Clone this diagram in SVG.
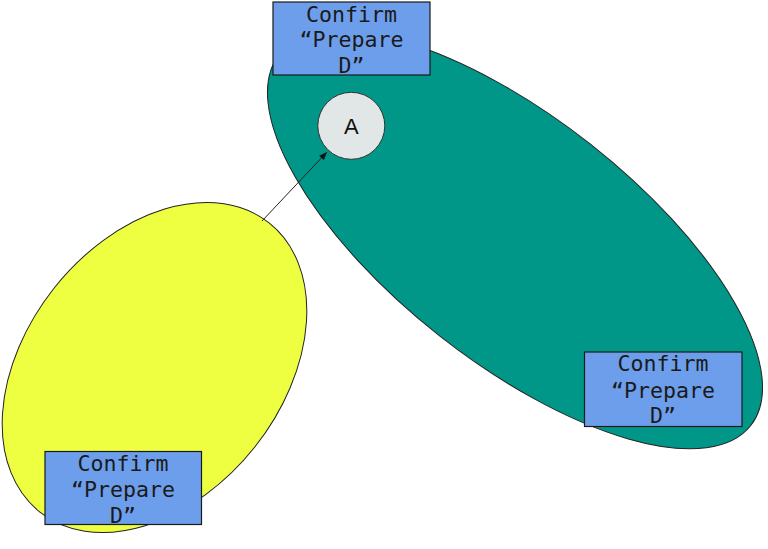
<svg xmlns="http://www.w3.org/2000/svg" width="768" height="549" viewBox="0 0 768 549">
<style>
.ell{stroke:#222;stroke-width:1}
.box{fill:#6d9eeb;stroke:#1a1a1a;stroke-width:1.2}
.lbl{font-family:"DejaVu Sans Mono","Liberation Mono",monospace;font-size:21.6px;fill:#1a1a1a;text-anchor:middle}
.circ{fill:#e0e7e6;stroke:#333;stroke-width:1}
.ctext{font-family:"Liberation Sans",Arial,sans-serif;font-size:22px;fill:#111;text-anchor:middle}
.edge{stroke:#222;stroke-width:1;fill:none}
</style>
<defs>
<marker id="arr" viewBox="0 0 10 10" refX="10" refY="5" markerWidth="9" markerHeight="8" orient="auto" markerUnits="userSpaceOnUse">
<path d="M0,1 L10,5 L0,9 z" fill="#111"/>
</marker>
</defs>
<g id="teal-group">
<ellipse class="ell" cx="515" cy="240" rx="300" ry="122" transform="rotate(38.2 515 240)" fill="#009688"/>
</g>
<g id="yellow-group">
<ellipse class="ell" cx="154.5" cy="367.5" rx="128" ry="184.5" transform="rotate(38.4 154.5 367.5)" fill="#eeff41"/>
</g>
<g id="connectors">
<line class="edge" x1="262" y1="221" x2="327" y2="152" marker-end="url(#arr)"/>
</g>
<g id="node-A">
<circle class="circ" cx="351.3" cy="125.8" r="33.5"/>
<text class="ctext" x="351.3" y="134">A</text>
</g>
<g id="label-top">
<rect class="box" x="273" y="2" width="157" height="73"/>
<text class="lbl" x="351.5" y="22">Confirm</text>
<text class="lbl" x="351.5" y="47">“Prepare</text>
<text class="lbl" x="351.5" y="72.5">D”</text>
</g>
<g id="label-right">
<rect class="box" x="584.5" y="352" width="157.5" height="74.5"/>
<text class="lbl" x="663" y="371">Confirm</text>
<text class="lbl" x="663" y="397.5">“Prepare</text>
<text class="lbl" x="663" y="423">D”</text>
</g>
<g id="label-left">
<rect class="box" x="45" y="451.5" width="156.5" height="73"/>
<text class="lbl" x="123" y="471">Confirm</text>
<text class="lbl" x="123" y="497">“Prepare</text>
<text class="lbl" x="123" y="522.5">D”</text>
</g>
</svg>
